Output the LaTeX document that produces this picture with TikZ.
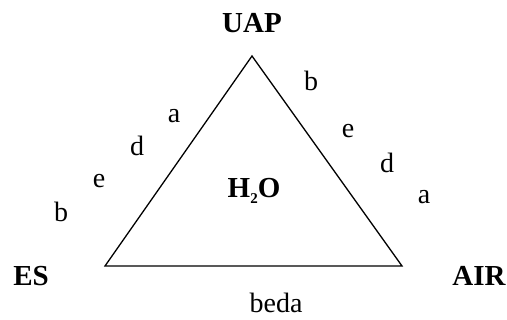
\documentclass[tikz,border=0pt]{standalone}
\usepackage{fontspec}
\setmainfont{Liberation Serif}
\usepackage{tikz}

\begin{document}
\begin{tikzpicture}[x=1pt,y=-1pt,
  lbl/.style={inner sep=0pt,font=\fontsize{28}{30}\selectfont},
  vtx/.style={inner sep=0pt,font=\fontsize{29}{31}\selectfont\bfseries}]
              \useasboundingbox (0,0) rectangle (507,320);
              \coordinate (top) at (252,56);
              \coordinate (left) at (105,266);
              \coordinate (right) at (402,266);
              \draw[line width=1.3pt,line join=miter] (top) -- (left) -- (right) -- cycle;
              \node[vtx] (uap) at (252,23) {UAP};
              \node[vtx] (es) at (31,276) {ES};
              \node[vtx] (air) at (479,276) {AIR};
              \node[vtx] (h2o) at (254,191) {H\raisebox{-0.4ex}{\fontsize{15}{15}\selectfont 2}O};
              \node[lbl] (beda) at (276,303) {beda};
              % kiri
              \node[lbl] (la) at (174,116) {a};
              \node[lbl] (ld) at (137,146) {d};
              \node[lbl] (le) at (99,181) {e};
              \node[lbl] (lb) at (61,212) {b};
              % kanan
              \node[lbl] (rb) at (311,81) {b};
              \node[lbl] (re) at (348,131) {e};
              \node[lbl] (rd) at (387,163) {d};
              \node[lbl] (ra) at (424,197) {a};
            \end{tikzpicture}
\end{document}
